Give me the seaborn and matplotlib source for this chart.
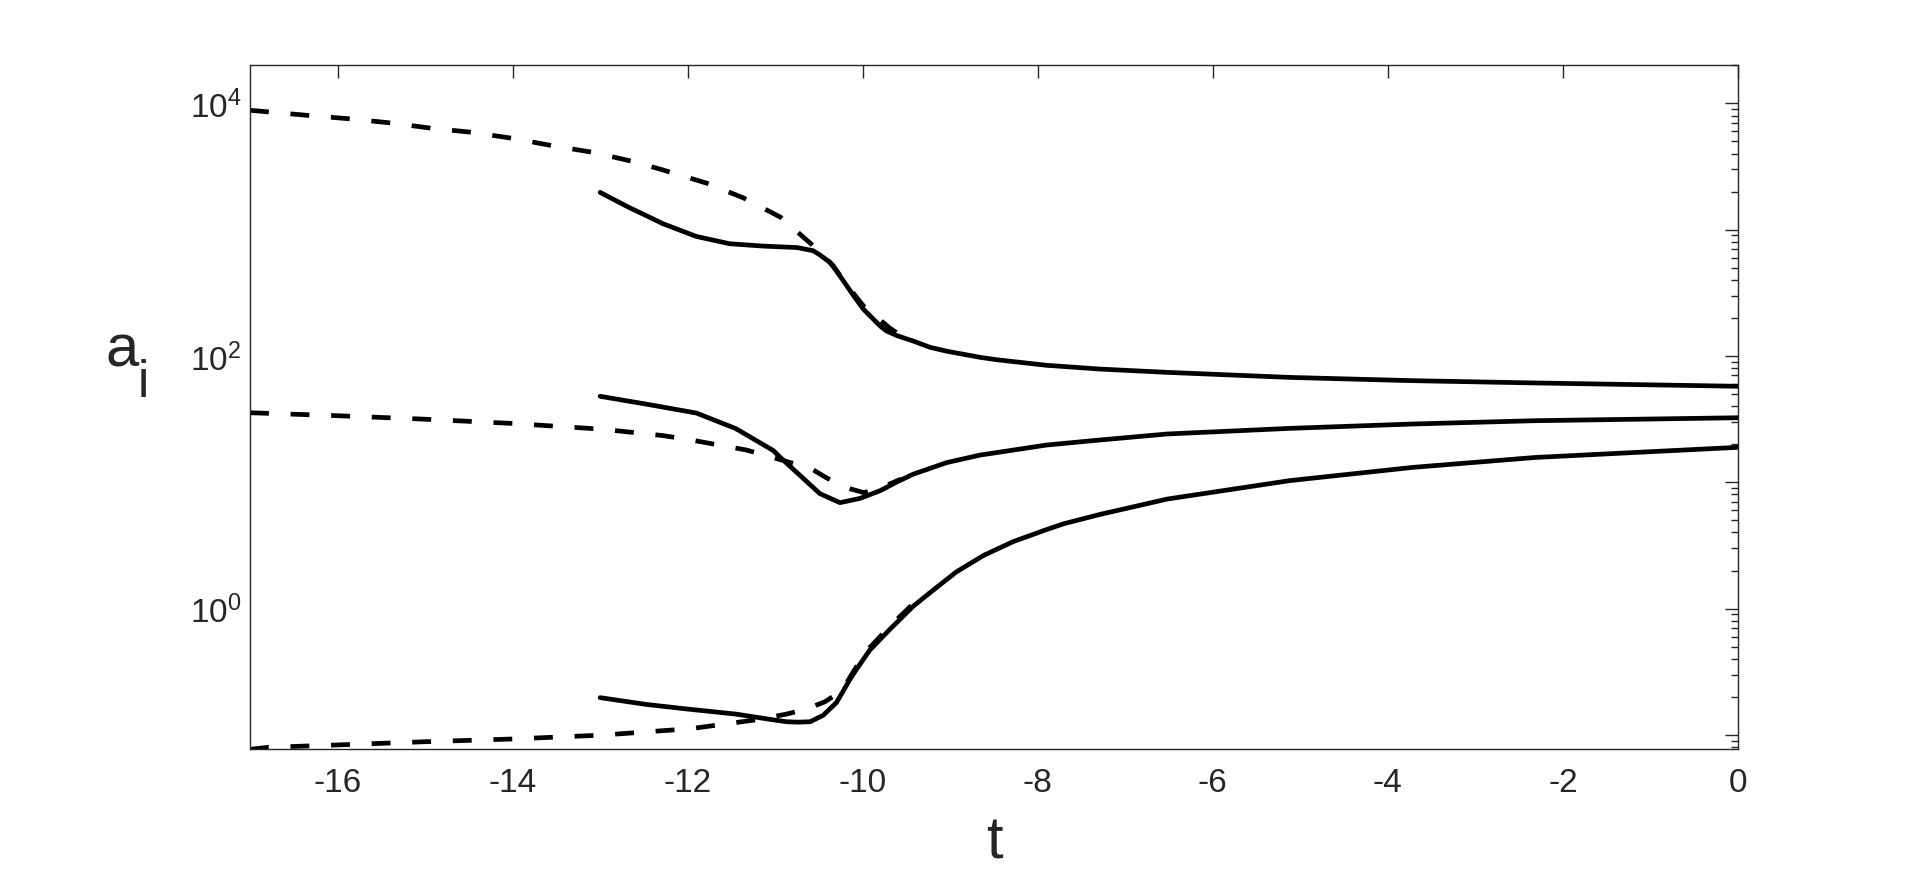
import numpy as np
import pandas as pd
import matplotlib
matplotlib.use("Agg")
import matplotlib.pyplot as plt
import matplotlib.ticker as mticker
import seaborn as sns

# values (t, a_i)
t_upper_dash = [-17.0, -16.30, -15.84, -15.38, -14.92, -14.46, -14.00, -13.54, -13.08, -12.67,
                -12.32, -11.78, -11.36, -10.94, -10.60, -10.34, -10.18, -9.99, -9.69, -9.57]
a_upper_dash = [8810, 7980, 7520, 6980, 6340, 5890, 5280, 4610, 4090, 3520,
                3020, 2330, 1780, 1256, 782, 521, 363, 248, 166, 146]

t_upper = [-13.0, -12.66, -12.47, -12.28, -11.90, -11.52, -11.14, -10.75, -10.565, -10.49,
           -10.374, -10.30, -10.183, -10.11, -9.993, -9.92, -9.802, -9.73, -9.612, -9.42,
           -9.231, -9.04, -8.66, -8.47, -7.90, -7.29, -6.52, -5.12, -3.72, -2.32, 0.0]
a_upper = [1972, 1486, 1288, 1112, 883, 773, 741, 721, 681, 631,
           551, 471, 360, 304, 235, 209, 173, 158, 145, 131,
           117, 109, 97.5, 93.3, 84.3, 78.7, 74.1, 67.6, 63.7, 61.1, 57.5]

t_mid_dash = [-17.0, -16.04, -15.02, -14.00, -12.98, -12.28, -11.96, -11.33, -10.87, -10.58,
              -10.41, -10.18, -9.99, -9.87, -9.73, -9.56]
a_mid_dash = [35.5, 33.7, 31.6, 29.2, 26.3, 23.4, 21.6, 18.0, 14.6, 12.7,
              10.8, 9.02, 8.28, 8.61, 9.44, 10.6]

t_mid = [-13.0, -12.47, -11.90, -11.45, -11.02, -10.945, -10.75, -10.49, -10.26, -10.03,
         -9.80, -9.61, -9.42, -9.04, -8.66, -7.90, -7.29, -6.52, -5.12, -3.72, -2.32, 0.0]
a_mid = [47.9, 41.5, 35.3, 26.6, 17.8, 15.8, 11.9, 8.13, 6.89, 7.45,
         8.57, 10.05, 11.6, 14.3, 16.4, 19.7, 21.6, 24.1, 26.7, 28.9, 30.7, 32.4]

t_low_dash = [-17.0, -16.8, -16.04, -15.02, -14.00, -12.98, -11.96, -11.20, -10.87, -10.64,
              -10.43, -10.24, -10.07, -9.92, -9.69, -9.42, -9.25]
a_low_dash = [0.0767, 0.0796, 0.0830, 0.0881, 0.0927, 0.0995, 0.112, 0.132, 0.146, 0.160,
              0.183, 0.223, 0.347, 0.490, 0.724, 1.096, 1.349]

t_low = [-13.0, -12.47, -12.0, -11.45, -11.04, -10.87, -10.74, -10.60, -10.45, -10.30,
         -10.22, -10.15, -10.07, -9.99, -9.92, -9.69, -9.42, -9.15, -8.93, -8.62,
         -8.28, -7.92, -7.71, -7.29, -6.52, -5.12, -3.72, -2.32, 0.0]
a_low = [0.197, 0.174, 0.160, 0.146, 0.132, 0.127, 0.126, 0.127, 0.143, 0.180,
         0.224, 0.272, 0.331, 0.398, 0.468, 0.684, 1.047, 1.479, 1.950, 2.630,
         3.388, 4.169, 4.677, 5.559, 7.36, 10.3, 13.1, 15.7, 18.9]

sns.set_style("white")
plt.rcParams['font.family'] = ['Liberation Sans', 'DejaVu Sans']
plt.rcParams['mathtext.default'] = 'regular'
txt = '#262626'

fig = plt.figure(figsize=(19.2, 8.79), dpi=100)
ax = fig.add_axes([0.1302, 0.1468, 0.7750, 0.7784])

curves = [(t_upper_dash, a_upper_dash, '--'), (t_mid_dash, a_mid_dash, '--'), (t_low_dash, a_low_dash, '--'),
          (t_upper, a_upper, '-'), (t_mid, a_mid, '-'), (t_low, a_low, '-')]
for tt, aa, ls in curves:
    df = pd.DataFrame({'t': tt, 'a': aa})
    sns.lineplot(data=df, x='t', y='a', ax=ax, color='black', lw=3.4,
                 sort=False, estimator=None)
    ln = ax.lines[-1]
    ln.set_solid_joinstyle('round')
    if ls == '--':
        ln.set_dashes((4.0, 4.6))

ax.set_yscale('log')
ax.set_xlim(-17, 0)
ax.set_ylim(0.0773, 20200)
ax.set_xticks(np.arange(-16, 1, 2))
ax.xaxis.set_major_formatter(mticker.FuncFormatter(lambda v, p: '%d' % v))
ax.yaxis.set_major_locator(mticker.LogLocator(base=10, numticks=20))
ax.yaxis.set_minor_locator(mticker.LogLocator(base=10, subs=np.arange(2, 10), numticks=40))


def yfmt(v, p):
    e = int(round(np.log10(v)))
    if e % 2 == 0:
        return r'$10^{%d}$' % e
    return ''


ax.yaxis.set_major_formatter(mticker.FuncFormatter(yfmt))
ax.yaxis.set_minor_formatter(mticker.NullFormatter())

ax.tick_params(axis='both', which='both', direction='in', top=True, right=True,
               colors=txt, labelcolor=txt, labelsize=24)
ax.tick_params(axis='both', which='major', length=9.5, width=1.0)
ax.tick_params(axis='y', which='minor', length=5, width=1.0)
ax.tick_params(axis='x', which='major', pad=13)
ax.tick_params(axis='y', which='major', pad=6)
for s in ax.spines.values():
    s.set_color(txt)
    s.set_linewidth(1.0)

ax.set_xlabel('t', fontsize=43, color=txt, labelpad=12)
ax.set_ylabel('')
fig.text(0.0547, 0.5825, 'a', fontsize=43, color=txt, va='baseline', ha='left')
fig.text(0.0719, 0.5484, 'i', fontsize=37, color=txt, va='baseline', ha='left')

fig.savefig('out.png', dpi=100)
